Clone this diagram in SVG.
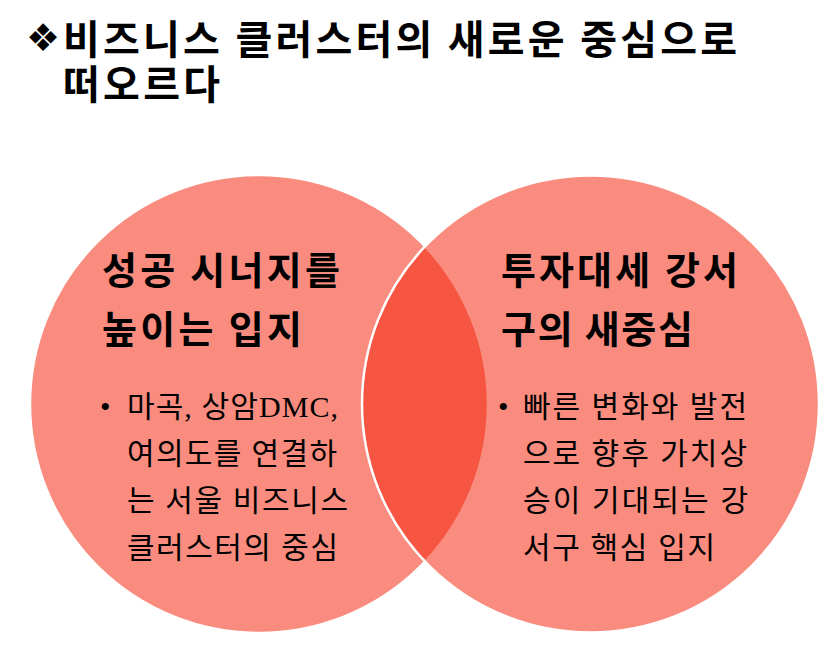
<svg xmlns="http://www.w3.org/2000/svg" width="840" height="656" viewBox="0 0 840 656">
<style>
.title{font-family:"Noto Sans CJK KR","Liberation Sans",sans-serif;font-weight:bold;font-size:40px;fill:#000}
.head{font-family:"Noto Sans CJK KR","Liberation Sans",sans-serif;font-weight:bold;font-size:38px;fill:#000}
.body{font-family:"Liberation Serif","Noto Sans CJK KR",serif;font-size:30px;fill:#000}
.circ{fill:#F4230A;fill-opacity:0.52;stroke:#FFFFFF;stroke-width:2.5}
</style>
<rect width="840" height="656" fill="#FFFFFF"/>
<g id="title">
<text x="26" y="51" style="font-family:'DejaVu Sans',sans-serif;font-size:38px;fill:#000">❖</text>
<text class="title" x="63" y="54" textLength="674">비즈니스 클러스터의 새로운 중심으로</text>
<text class="title" x="63" y="99" textLength="157">떠오르다</text>
</g>
<g id="circle-left">
<circle class="circ" cx="259" cy="404" r="229"/>
</g>
<g id="circle-right">
<circle class="circ" cx="590.5" cy="404" r="228.5"/>
</g>
<g id="text-left">
<text class="head" x="102" y="284" textLength="238">성공 시너지를</text>
<text class="head" x="102" y="343" textLength="200">높이는 입지</text>
<text class="body" x="100" y="417">•</text>
<text class="body" x="127" y="417" textLength="211">마곡, 상암DMC,</text>
<text class="body" x="127" y="464" textLength="210">여의도를 연결하</text>
<text class="body" x="127" y="511" textLength="221">는 서울 비즈니스</text>
<text class="body" x="127" y="558" textLength="211">클러스터의 중심</text>
</g>
<g id="text-right">
<text class="head" x="501" y="284" textLength="237">투자대세 강서</text>
<text class="head" x="501" y="343" textLength="192">구의 새중심</text>
<text class="body" x="498" y="417">•</text>
<text class="body" x="523" y="417" textLength="224">빠른 변화와 발전</text>
<text class="body" x="523" y="464" textLength="224">으로 향후 가치상</text>
<text class="body" x="523" y="511" textLength="225">승이 기대되는 강</text>
<text class="body" x="523" y="558" textLength="192">서구 핵심 입지</text>
</g>
<g id="connectors"></g>
</svg>
